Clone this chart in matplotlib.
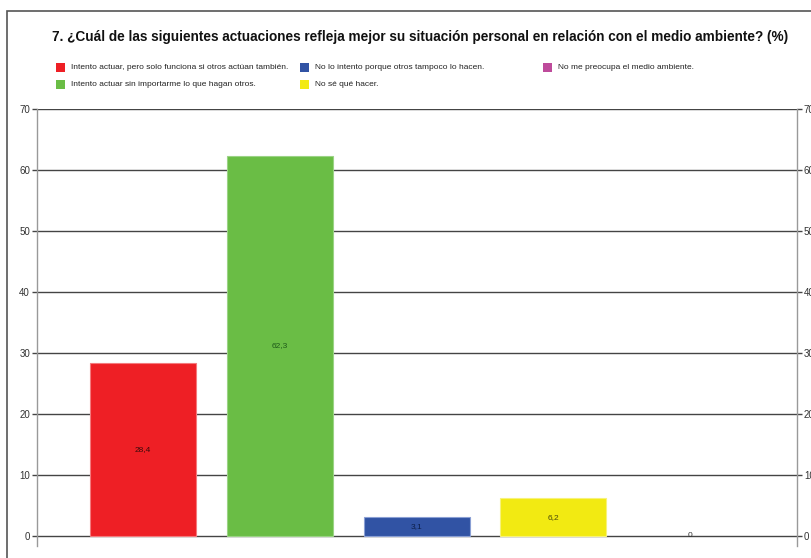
import matplotlib
matplotlib.use("Agg")
import matplotlib.pyplot as plt
from matplotlib.patches import Rectangle
from matplotlib import font_manager
import numpy as np

title = "7. ¿Cuál de las siguientes actuaciones refleja mejor su situación personal en relación con el medio ambiente? (%)"
categories = [
    "Intento actuar, pero solo funciona si otros actúan también.",
    "Intento actuar sin importarme lo que hagan otros.",
    "No lo intento porque otros tampoco lo hacen.",
    "No sé qué hacer.",
    "No me preocupa el medio ambiente.",
]
values = [28.4, 62.3, 3.1, 6.2, 0]
colors = ["#EE1F25", "#6ABD45", "#3153A4", "#F2EA12", "#BE4B9B"]
edge_colors = ["#F47A7D", "#9BD385", "#8A9FD4", "#F7F27A", "#D88FC2"]
label_colors = ["#3a0a0a", "#1f5a1a", "#0d1f4a", "#4a4a0a", "#333333"]
yticks = [0, 10, 20, 30, 40, 50, 60, 70]

installed = {f.name for f in font_manager.fontManager.ttflist}
has_narrow = "Liberation Sans Narrow" in installed
narrow = ["Liberation Sans Narrow", "Liberation Sans", "DejaVu Sans"]

fig = plt.figure(figsize=(8.11, 5.58), dpi=100)
W, H = 811, 558

# outer frame
fig.add_artist(Rectangle((7 / W, -0.1), 1.2, (H - 11) / H + 0.1, transform=fig.transFigure,
                         fill=False, edgecolor="#555555", linewidth=1.2))

ax = fig.add_axes([37 / W, (H - 546) / H, (797 - 37) / W, (546 - 109) / H])
x = np.arange(len(values))
for xi, v, c, ec in zip(x, values, colors, edge_colors):
    if v > 0:
        ax.bar(xi, v, width=0.775, color=c, edgecolor=ec, linewidth=0.8, zorder=3)
ax.set_xlim(-0.775, 4.78)
ax.set_ylim(-1.64, 70)
ax.set_yticks(yticks)
ax.grid(axis="y", color="#444444", linewidth=1.0, zorder=1)
ax.set_axisbelow(True)
ax.yaxis.set_ticks_position("both")
ax.tick_params(axis="y", length=3.5, width=1.0, color="#444444", labelsize=7,
               labelcolor="#333333", pad=1.5, labelright=True, labelleft=True)
ax.tick_params(axis="x", bottom=False, labelbottom=False)
for lbl in ax.yaxis.get_ticklabels():
    lbl.set_family(narrow)
for tk in ax.yaxis.get_major_ticks():
    tk.label2.set_family(narrow)
ax.spines["top"].set_visible(False)
ax.spines["bottom"].set_visible(False)
for s in ("left", "right"):
    ax.spines[s].set_color("#999999")
    ax.spines[s].set_linewidth(1.0)

for xi, v, lc in zip(x, values, label_colors):
    s = "0" if v == 0 else f"{v:.1f}".replace(".", ",")
    ax.text(xi, v / 2, s, ha="center", va="center", fontsize=6, color=lc, family=narrow, zorder=4)

title_family = ["Liberation Sans Narrow", "Liberation Sans"] if has_narrow else ["Liberation Sans"]
title_size = 12.3 if has_narrow else 9.8
fig.text(52 / W, 1 - 37 / H, title, ha="left", va="center", fontsize=title_size, fontweight="bold",
         family=title_family, color="#111111")

# legend (column-major, 2 rows)
col_x = [56, 300, 543]
row_y = [67.5, 84]
leg_size = 6.6 if has_narrow else 6.0
for i, (lab, c) in enumerate(zip(categories, colors)):
    col, row = divmod(i, 2)
    fig.add_artist(Rectangle((col_x[col] / W, 1 - (row_y[row] + 4.5) / H), 9 / W, 9 / H,
                             transform=fig.transFigure, facecolor=c, edgecolor="none"))
    fig.text((col_x[col] + 15) / W, 1 - row_y[row] / H, lab, ha="left", va="center",
             fontsize=leg_size, family=narrow, color="#222222")

fig.savefig("out.png", dpi=100)
